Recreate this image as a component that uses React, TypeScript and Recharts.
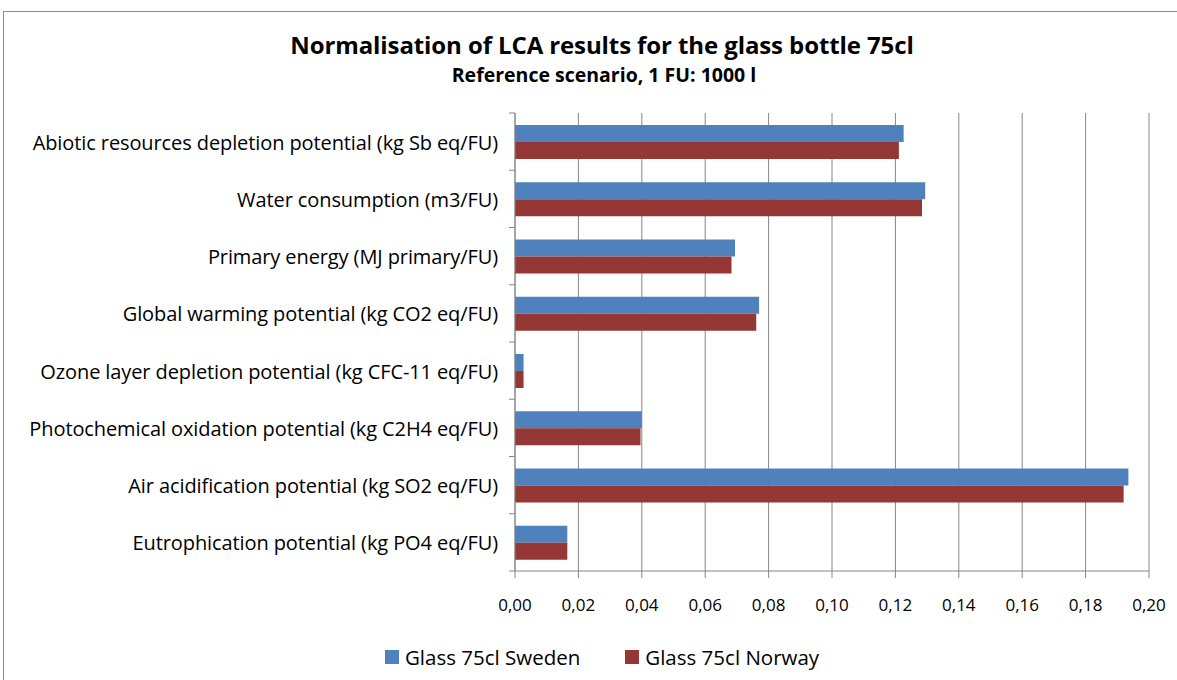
import {
  BarChart,
  Bar,
  XAxis,
  YAxis,
  CartesianGrid,
} from "recharts";

const categories = [
  "Abiotic resources depletion potential (kg Sb eq/FU)",
  "Water consumption (m3/FU)",
  "Primary energy (MJ primary/FU)",
  "Global warming potential (kg CO2 eq/FU)",
  "Ozone layer depletion potential (kg CFC-11 eq/FU)",
  "Photochemical oxidation potential (kg C2H4 eq/FU)",
  "Air acidification  potential (kg SO2 eq/FU)",
  "Eutrophication potential (kg PO4 eq/FU)",
];

const sweden = [0.1226, 0.1294, 0.0694, 0.077, 0.0027, 0.04, 0.1935, 0.0165];
const norway = [0.1211, 0.1284, 0.0683, 0.0761, 0.0027, 0.0396, 0.192, 0.0165];

const xTicks = [0, 0.02, 0.04, 0.06, 0.08, 0.1, 0.12, 0.14, 0.16, 0.18, 0.2];

const series = [
  { key: "sweden", name: "Glass 75cl Sweden", color: "#4F81BD" },
  { key: "norway", name: "Glass 75cl Norway", color: "#953735" },
];

const data = categories.map((name, i) => ({
  name,
  sweden: sweden[i],
  norway: norway[i],
}));

const FONT = "'Open Sans', 'Noto Sans', sans-serif";
const AXIS = "#868686";
const CHART_W = 1177;
const CHART_H = 680;
const MARGIN = { top: 113, right: 28, bottom: 79, left: 10 };
const BAND = (CHART_H - MARGIN.top - MARGIN.bottom - 30) / categories.length;

function CategoryTick(props: any) {
  const { x, y, payload, index } = props;
  return (
    <g>
      <line x1={x + 2} x2={x + 8} y1={y - BAND / 2} y2={y - BAND / 2} stroke={AXIS} />
      {index === categories.length - 1 && (
        <line x1={x + 2} x2={x + 8} y1={y + BAND / 2} y2={y + BAND / 2} stroke={AXIS} />
      )}
      <text
        x={x - 9}
        y={y}
        dy={8}
        textAnchor="end"
        fontSize={20}
        fontFamily={FONT}
        letterSpacing={-0.1}
        fill="#000"
      >
        {payload.value}
      </text>
    </g>
  );
}

export default function App() {
  return (
    <div
      style={{
        position: "absolute",
        left: 0,
        top: 0,
        width: CHART_W,
        height: CHART_H,
        overflow: "hidden",
        background: "#fff",
        fontFamily: FONT,
      }}
    >
      <div
        style={{
          position: "absolute",
          left: 3,
          top: 11,
          width: 1200,
          height: 700,
          border: "1px solid #8c8c8c",
        }}
      />
      <div
        style={{
          position: "absolute",
          left: 0,
          width: 1204,
          top: 28,
          textAlign: "center",
          fontWeight: 700,
          fontSize: 24,
          lineHeight: "34px",
          letterSpacing: -0.1,
          color: "#000",
        }}
      >
        Normalisation of LCA results for the glass bottle 75cl
      </div>
      <div
        style={{
          position: "absolute",
          left: 0,
          width: 1208,
          top: 61,
          textAlign: "center",
          fontWeight: 700,
          fontSize: 19.5,
          lineHeight: "27px",
          color: "#000",
        }}
      >
        Reference scenario, 1 FU: 1000 l
      </div>
      <div style={{ position: "absolute", left: 0, top: 0 }}>
        <BarChart
          width={CHART_W}
          height={CHART_H}
          data={data}
          layout="vertical"
          margin={MARGIN}
          barCategoryGap="21%"
          barGap={0}
        >
          <CartesianGrid horizontal={false} stroke={AXIS} strokeWidth={1} />
          <XAxis
            type="number"
            domain={[0, 0.2]}
            ticks={xTicks}
            interval={0}
            height={30}
            stroke={AXIS}
            tickSize={7}
            tickMargin={21}
            tick={{ fill: "#000", fontSize: 17, fontFamily: FONT }}
            tickFormatter={(v: number) => v.toFixed(2).replace(".", ",")}
          />
          <YAxis
            type="category"
            dataKey="name"
            width={505}
            stroke={AXIS}
            tickLine={false}
            interval={0}
            tick={<CategoryTick />}
          />
          {series.map((s) => (
            <Bar
              key={s.key}
              dataKey={s.key}
              name={s.name}
              fill={s.color}
              isAnimationActive={false}
            />
          ))}
        </BarChart>
      </div>
      <div
        style={{
          position: "absolute",
          top: 642,
          left: 0,
          width: CHART_W,
          display: "flex",
          justifyContent: "center",
          paddingLeft: 27,
          boxSizing: "border-box",
          fontSize: 20.5,
          lineHeight: "30px",
          color: "#000",
        }}
      >
        {series.map((s, i) => (
          <div
            key={s.key}
            style={{
              display: "flex",
              alignItems: "center",
              marginLeft: i === 0 ? 0 : 45,
            }}
          >
            <span
              style={{
                display: "inline-block",
                width: 14,
                height: 14,
                background: s.color,
                marginRight: 6,
              }}
            />
            {s.name}
          </div>
        ))}
      </div>
    </div>
  );
}
